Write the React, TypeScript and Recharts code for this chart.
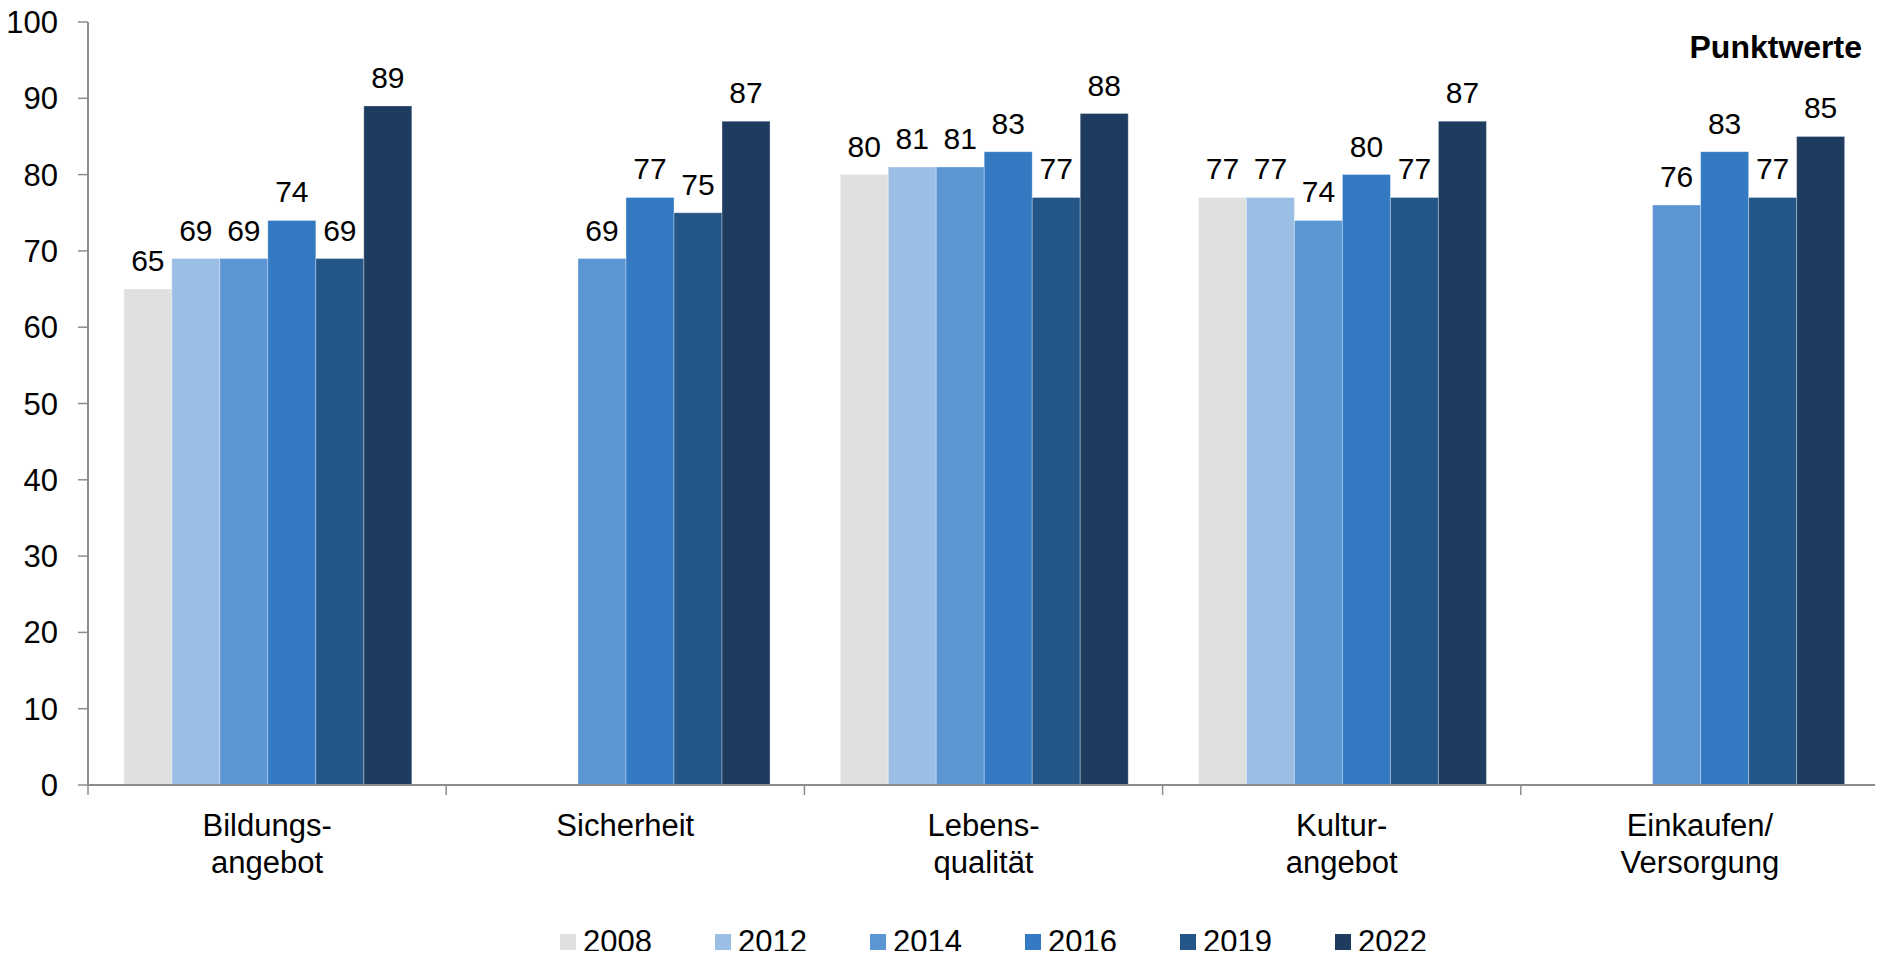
import React from 'react';
import { BarChart, Bar, XAxis, YAxis, LabelList, Legend, Customized } from 'recharts';

const categories = ['Bildungs-\nangebot', 'Sicherheit', 'Lebens-\nqualität', 'Kultur-\nangebot', 'Einkaufen/\nVersorgung'];
const years = ['2008', '2012', '2014', '2016', '2019', '2022'];
const v2008 = [65, null, 80, 77, null];
const v2012 = [69, null, 81, 77, null];
const v2014 = [69, 69, 81, 74, 76];
const v2016 = [74, 77, 83, 80, 83];
const v2019 = [69, 75, 77, 77, 77];
const v2022 = [89, 87, 88, 87, 85];
const yTicks = [0, 10, 20, 30, 40, 50, 60, 70, 80, 90, 100];
const colors = ['#E0E0E0', '#9BBFE4', '#5B96D3', '#337AC2', '#245688', '#1D3C5F'];
const unitLabel = 'Punktwerte';

const seriesValues = [v2008, v2012, v2014, v2016, v2019, v2022];
const data = categories.map((c, i) => {
  const row: any = { name: c };
  years.forEach((y, k) => {
    row['y' + y] = seriesValues[k][i];
  });
  return row;
});

const FONT = '"Liberation Sans", Arial, sans-serif';
const AXIS = '#8C8C8C';

const XTick = (props: any) => {
  const { x, y, payload, width, visibleTicksCount, index } = props;
  const bw = width && visibleTicksCount ? width / visibleTicksCount : 358;
  const lines = String(payload.value).split('\n');
  const top = y - 10;
  return (
    <g>
      <line x1={x - bw / 2} x2={x - bw / 2} y1={top} y2={top + 10} stroke={AXIS} strokeWidth={1.5} />
      {index === visibleTicksCount - 1 && (
        <line x1={x + bw / 2} x2={x + bw / 2} y1={top} y2={top + 10} stroke={AXIS} strokeWidth={1.5} />
      )}
      <text x={x} y={y} textAnchor="middle" fontFamily={FONT} fontSize={31} fill="#000">
        {lines.map((l, i) => (
          <tspan key={i} x={x} y={y + 41 + i * 37}>{l}</tspan>
        ))}
      </text>
    </g>
  );
};

const ValueLabel = (props: any) => {
  const { x, y, width, value } = props;
  if (value === null || value === undefined) return null;
  return (
    <text x={x + width / 2} y={y - 18} textAnchor="middle" fontFamily={FONT} fontSize={30} fill="#000">
      {value}
    </text>
  );
};

const LegendContent = () => (
  <div style={{ display: 'flex', fontFamily: FONT, fontSize: 31, color: '#000' }}>
    {years.map((y, i) => (
      <div key={y} style={{ display: 'flex', alignItems: 'center', width: 155 }}>
        <div style={{ width: 16, height: 16, background: colors[i], marginRight: 7 }} />
        <span style={{ lineHeight: '34px' }}>{y}</span>
      </div>
    ))}
  </div>
);

export default function App() {
  return (
    <div style={{ margin: -8, width: 1883, height: 959, background: '#fff' }}>
      <BarChart
        width={1883}
        height={959}
        data={data}
        margin={{ top: 22, right: 4, left: 0, bottom: 0 }}
        barCategoryGap="10%"
        barGap={0}
      >
        <XAxis
          dataKey="name"
          height={174}
          tickLine={false}
          tickSize={10}
          tickMargin={0}
          axisLine={{ stroke: AXIS, strokeWidth: 2 }}
          tick={<XTick />}
          interval={0}
        />
        <YAxis
          width={88}
          domain={[0, 100]}
          ticks={yTicks}
          tickSize={10}
          tickMargin={20}
          axisLine={{ stroke: AXIS, strokeWidth: 2 }}
          tickLine={{ stroke: AXIS, strokeWidth: 1.5 }}
          tick={{ fontFamily: FONT, fontSize: 31, fill: '#000' }}
          interval={0}
        />
        <Legend
          layout="horizontal"
          verticalAlign="middle"
          align="center"
          wrapperStyle={{ left: 560, top: 925, width: 960 }}
          content={<LegendContent />}
        />
        {years.map((y, i) => (
          <Bar
            key={y}
            dataKey={'y' + y}
            name={y}
            fill={colors[i]}
            stroke="rgba(255,255,255,0.3)"
            strokeWidth={1}
            isAnimationActive={false}
          >
            <LabelList dataKey={'y' + y} content={<ValueLabel />} />
          </Bar>
        ))}
        <Customized
          component={() => (
            <text x={1862} y={58} textAnchor="end" fontFamily={FONT} fontSize={32} fontWeight="bold" fill="#000">
              {unitLabel}
            </text>
          )}
        />
      </BarChart>
    </div>
  );
}
